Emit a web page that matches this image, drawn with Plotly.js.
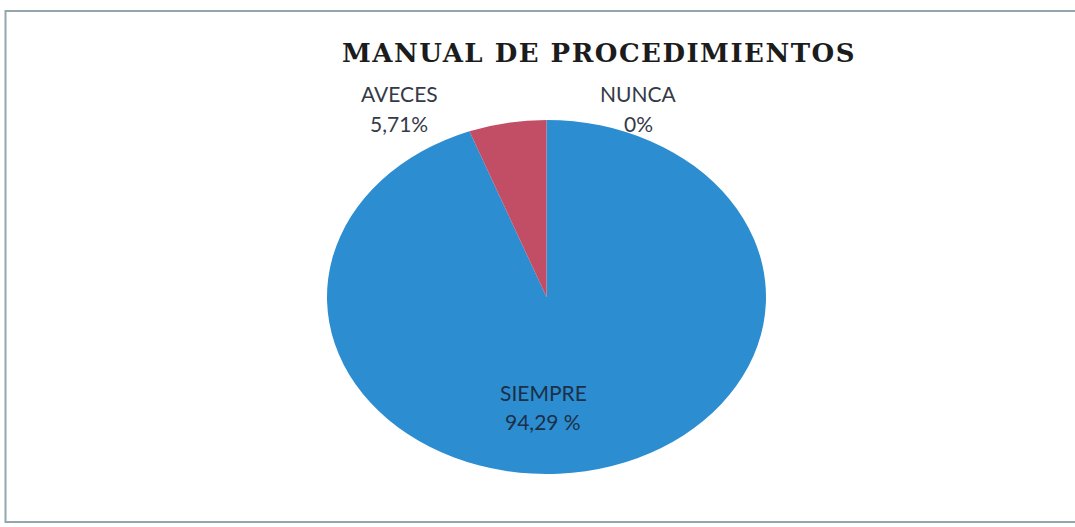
<!DOCTYPE html>
<html>
<head>
<meta charset="utf-8">
<script src="https://cdn.plot.ly/plotly-3.0.1.min.js"></script>
<style>
html,body{margin:0;padding:0;background:#fff;}
#chart{width:1075px;height:527px;}
#chart .gtitle{letter-spacing:1.5px;}
</style>
</head>
<body>
<div id="chart"></div>
<script>
// ---- data ----
var categories = ['SIEMPRE', 'AVECES', 'NUNCA'];
var values = [94.29, 5.71, 0];
var valueLabels = ['94,29 %', '5,71%', '0%'];
var sliceColors = ['#2C8DD0', '#C14E65', '#8FB04A'];
var chartTitle = 'MANUAL DE PROCEDIMIENTOS';

// ---- layout helpers (pixel -> paper) ----
var W = 1075, H = 527;
function px(x){ return x / W; }
function py(y){ return 1 - y / H; }

// label positions (pixels) for each category: [name centre, value centre]
var labelPos = {
  'SIEMPRE': {x: 543, y1: 392, y2: 421, color: '#1b3048'},
  'AVECES':  {x: 399, y1: 93,  y2: 123, color: '#353a47'},
  'NUNCA':   {x: 638, y1: 93,  y2: 123, color: '#353a47'}
};

var annotations = [];
categories.forEach(function(c, i){
  var p = labelPos[c];
  annotations.push({xref:'paper', yref:'paper', x:px(p.x), y:py(p.y1), text:c,
    showarrow:false, xanchor:'center', yanchor:'middle',
    font:{family:'Lato, "Open Sans", sans-serif', size:21, color:p.color}});
  annotations.push({xref:'paper', yref:'paper', x:px(p.x), y:py(p.y2), text:valueLabels[i],
    showarrow:false, xanchor:'center', yanchor:'middle',
    font:{family:'Lato, "Open Sans", sans-serif', size:21, color:p.color}});
});

var cx = 546.5, cy = 297, ry = 177, rx = 219.5;

var trace = {
  type: 'pie',
  labels: categories,
  values: values,
  sort: false,
  direction: 'clockwise',
  rotation: 0,
  marker: {colors: sliceColors, line: {width: 0}},
  textinfo: 'none',
  hoverinfo: 'label+percent',
  showlegend: false,
  domain: {x: [px(cx - ry), px(cx + ry)], y: [py(cy + ry), py(cy - ry)]}
};

var layout = {
  width: W, height: H,
  margin: {l:0, r:0, t:0, b:0},
  paper_bgcolor: '#ffffff',
  showlegend: false,
  title: {
    text: '<b>' + chartTitle + '</b>',
    x: px(599), xanchor: 'center',
    y: py(53), yanchor: 'middle',
    xref: 'paper', yref: 'paper',
    font: {family: '"DejaVu Serif", "Liberation Serif", serif', size: 26, color: '#1c1c1c'}
  },
  annotations: annotations,
  shapes: [{
    type: 'rect', xref: 'paper', yref: 'paper',
    x0: px(5.5), x1: px(1080), y0: py(522), y1: py(11),
    line: {color: '#93A6AC', width: 2}, fillcolor: 'rgba(0,0,0,0)', layer: 'below'
  }]
};

Plotly.newPlot('chart', [trace], layout, {displayModeBar: false, staticPlot: true}).then(function(gd){
  // stretch the pie horizontally into the ellipse of the reference
  var s = rx / ry;
  var layer = gd.querySelector('.pielayer');
  if (layer) {
    layer.setAttribute('transform', 'translate(' + cx + ',0) scale(' + s + ',1) translate(' + (-cx) + ',0)');
  }
});
</script>
</body>
</html>
